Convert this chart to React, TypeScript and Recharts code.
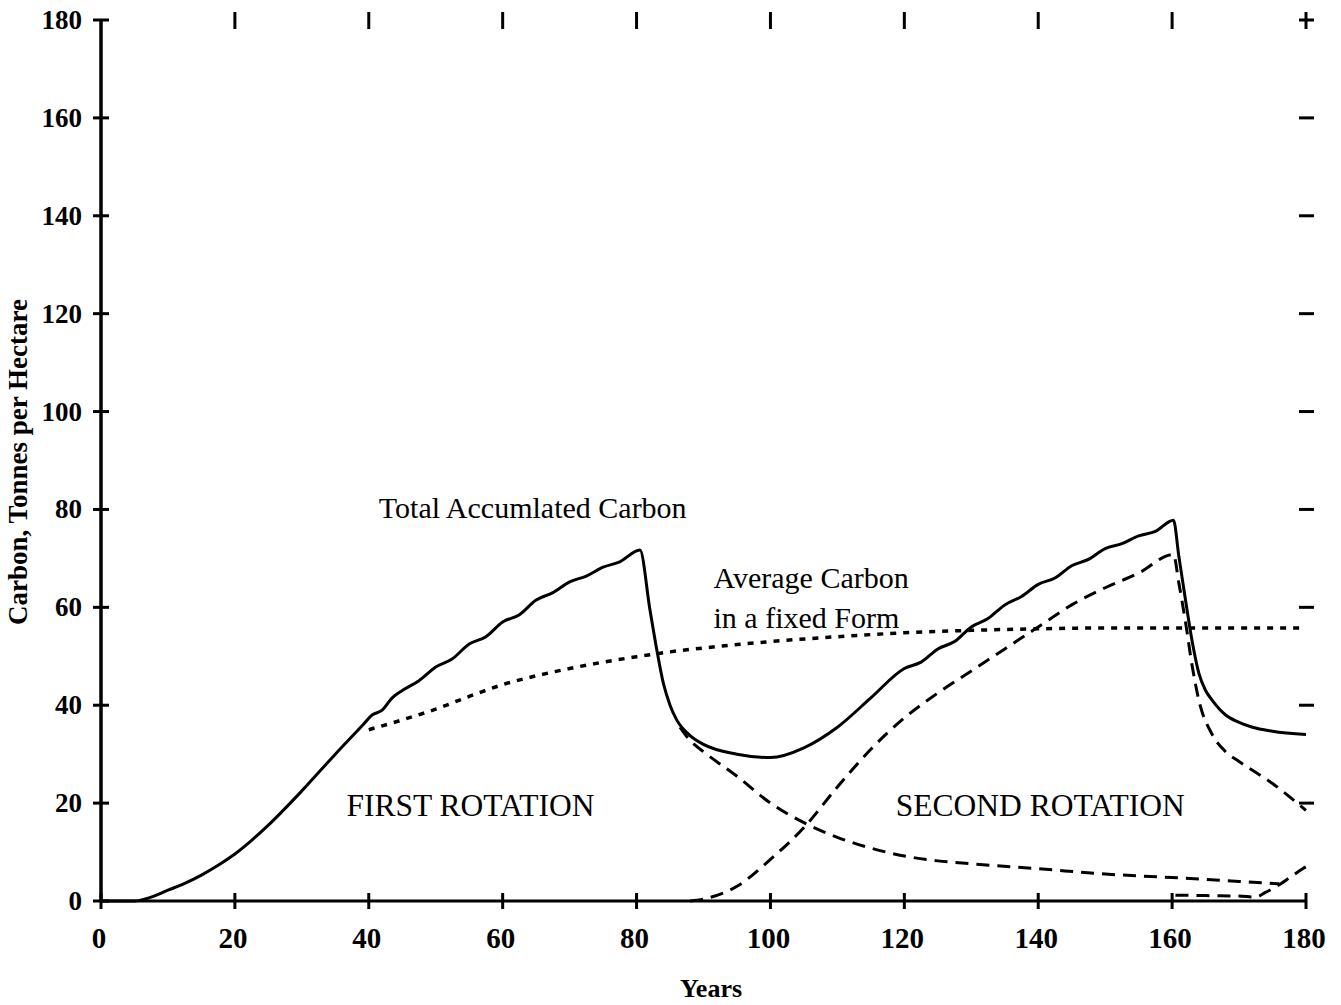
import { LineChart, Line, XAxis, YAxis, ReferenceDot } from 'recharts';

// Axis ticks
const xTicks = [0, 20, 40, 60, 80, 100, 120, 140, 160, 180];
const topTicks = [20, 40, 60, 80, 100, 120, 140, 160, 180];
const yTicks = [0, 20, 40, 60, 80, 100, 120, 140, 160, 180];
const rightTicks = [20, 40, 60, 80, 100, 120, 140, 160, 180];

// Total accumulated carbon (solid)
const totalYears = [0, 5, 7.5, 10, 12.5, 15, 17.5, 20, 25, 30, 35, 39, 40.5, 42, 43.5, 45, 47.5, 50, 52.5, 55, 57.5, 60, 62.5, 65, 67.5, 70, 72.5, 75, 77.5, 80.5, 82, 83, 84, 85, 86, 88, 90, 95, 100, 105, 110, 115, 120, 122.5, 125, 127.5, 130, 132.5, 135, 137.5, 140, 142.5, 145, 147.5, 150, 152.5, 155, 157.5, 160.2, 161, 162, 163, 164, 165, 166, 168, 170, 172, 175, 180];
const totalCarbon = [0, 0, 0.8, 2.2, 3.6, 5.3, 7.3, 9.6, 15.5, 22.5, 30, 35.8, 38, 39, 41.5, 43, 45, 47.8, 49.5, 52.5, 54, 57, 58.5, 61.5, 63, 65.2, 66.4, 68.2, 69.3, 71.7, 59.5, 51.5, 44.5, 40, 37, 33.8, 32, 30, 29.3, 31.3, 35.5, 41.5, 47.5, 48.8, 51.5, 53, 56, 57.7, 60.5, 62.2, 64.7, 66, 68.5, 69.8, 72, 73, 74.6, 75.5, 77.8, 70.5, 61.5, 53, 46.5, 43, 41, 38, 36.5, 35.5, 34.7, 34];

// Average carbon held in a fixed form (dotted)
const avgYears = [40, 45, 50, 55, 60, 65, 70, 75, 80, 85, 90, 100, 110, 120, 130, 140, 150, 160, 170, 180];
const avgCarbon = [35, 37, 39.2, 41.8, 44.2, 46, 47.5, 48.8, 49.9, 50.9, 51.7, 53, 54, 54.8, 55.3, 55.6, 55.8, 55.8, 55.8, 55.8];

// First rotation carbon decaying after harvest (dashed)
const decayYears = [86.5, 88, 90, 95, 100, 105, 110, 115, 120, 125, 130, 140, 150, 160, 170, 176];
const decayCarbon = [35.5, 32.8, 30.5, 25.5, 20, 16, 13, 10.8, 9.2, 8.2, 7.6, 6.6, 5.5, 4.8, 4, 3.5];

// Second rotation growth and decay (dashed)
const secondYears = [88, 90, 95, 100, 105, 110, 115, 120, 125, 130, 135, 140, 145, 150, 155, 160.2, 161, 162, 163, 164, 166, 168, 170, 175, 180];
const secondCarbon = [0, 0.4, 3, 8.5, 15, 23.3, 31, 37.4, 42.5, 47, 51.5, 56, 60.5, 64, 67, 70.8, 65, 57, 48, 41, 34, 30.5, 28.5, 24, 18.5];

// Third rotation start (dashed)
const thirdYears = [160.5, 165, 170, 172.5, 174, 175.5, 177.5, 179.5, 180];
const thirdCarbon = [1.2, 1.1, 1.0, 0.8, 1.8, 2.9, 4.7, 6.6, 7];

const zip = (xs: number[], ys: number[]) => xs.map((year, i) => ({ year, carbon: ys[i] }));

const SERIF = "'Liberation Serif', 'DejaVu Serif', serif";
const INK = '#000';

function LeftTick(props: any) {
  const { x, y, payload } = props;
  return (
    <g>
      <line x1={x - 8} x2={x + 8} y1={y} y2={y} stroke={INK} strokeWidth={3} />
      <text x={x - 19} y={y} textAnchor="end" dominantBaseline="central" fontFamily={SERIF} fontWeight="bold" fontSize={27} fill={INK}>
        {payload.value}
      </text>
    </g>
  );
}

function BottomTick(props: any) {
  const { x, y, payload } = props;
  return (
    <g>
      <line x1={x} x2={x} y1={y - 8} y2={y + 8} stroke={INK} strokeWidth={3} />
      <text x={x - 2} y={y + 37} textAnchor="middle" dominantBaseline="central" fontFamily={SERIF} fontWeight="bold" fontSize={29} fill={INK}>
        {payload.value}
      </text>
    </g>
  );
}

function TopTick(props: any) {
  const { x, y } = props;
  return <line x1={x} x2={x} y1={y - 8} y2={y + 9} stroke={INK} strokeWidth={3} />;
}

function RightTick(props: any) {
  const { x, y } = props;
  return <line x1={x - 7} x2={x + 8} y1={y} y2={y} stroke={INK} strokeWidth={3} />;
}

const noteStyle = { fontFamily: SERIF, fontSize: 30, fill: INK };
const capsStyle = { fontFamily: SERIF, fontSize: 31.5, fill: INK };

export default function App() {
  return (
    <div style={{ position: 'absolute', left: 0, top: 0, width: 1341, height: 1005, background: '#fff' }}>
      <LineChart width={1341} height={1005} margin={{ top: 8, right: 15, left: 0, bottom: 0 }}>
        <XAxis
          xAxisId="bottom"
          dataKey="year"
          type="number"
          domain={[0, 180]}
          ticks={xTicks}
          height={104}
          tickSize={0}
          tickMargin={0}
          tickLine={false}
          tick={<BottomTick />}
          axisLine={{ stroke: INK, strokeWidth: 3 }}
          allowDuplicatedCategory={false}
          label={{
            content: () => (
              <text x={711} y={988} textAnchor="middle" dominantBaseline="central" fontFamily={SERIF} fontWeight="bold" fontSize={26} fill={INK}>
                Years
              </text>
            ),
          }}
        />
        <XAxis
          xAxisId="top"
          orientation="top"
          dataKey="year"
          type="number"
          domain={[0, 180]}
          ticks={topTicks}
          height={12}
          tickSize={0}
          tickMargin={0}
          tickLine={false}
          axisLine={false}
          tick={<TopTick />}
          allowDuplicatedCategory={false}
        />
        <YAxis
          yAxisId="left"
          type="number"
          domain={[0, 180]}
          ticks={yTicks}
          width={101}
          tickSize={0}
          tickMargin={0}
          tickLine={false}
          tick={<LeftTick />}
          axisLine={{ stroke: INK, strokeWidth: 3.5 }}
          label={{
            content: () => (
              <text
                x={18}
                y={462}
                transform="rotate(-90, 18, 462)"
                textAnchor="middle"
                dominantBaseline="central"
                fontFamily={SERIF}
                fontWeight="bold"
                fontSize={27}
                fill={INK}
              >
                Carbon, Tonnes per Hectare
              </text>
            ),
          }}
        />
        <YAxis
          yAxisId="right"
          orientation="right"
          type="number"
          domain={[0, 180]}
          ticks={rightTicks}
          width={20}
          tickSize={0}
          tickMargin={0}
          tickLine={false}
          axisLine={false}
          tick={<RightTick />}
        />

        {/* invisible series so the top and right tick axes get drawn */}
        <Line
          xAxisId="top"
          yAxisId="right"
          data={zip(avgYears, avgCarbon)}
          dataKey="carbon"
          stroke="none"
          dot={false}
          activeDot={false}
          legendType="none"
          isAnimationActive={false}
        />

        <Line
          xAxisId="bottom"
          yAxisId="left"
          data={zip(totalYears, totalCarbon)}
          dataKey="carbon"
          type="monotone"
          stroke={INK}
          strokeWidth={3}
          dot={false}
          isAnimationActive={false}
        />
        <Line
          xAxisId="bottom"
          yAxisId="left"
          data={zip(avgYears, avgCarbon)}
          dataKey="carbon"
          type="monotone"
          stroke={INK}
          strokeWidth={3.5}
          strokeDasharray="6 7"
          dot={false}
          isAnimationActive={false}
        />
        <Line
          xAxisId="bottom"
          yAxisId="left"
          data={zip(decayYears, decayCarbon)}
          dataKey="carbon"
          type="monotone"
          stroke={INK}
          strokeWidth={3}
          strokeDasharray="13 8"
          dot={false}
          isAnimationActive={false}
        />
        <Line
          xAxisId="bottom"
          yAxisId="left"
          data={zip(secondYears, secondCarbon)}
          dataKey="carbon"
          type="monotone"
          stroke={INK}
          strokeWidth={3}
          strokeDasharray="13 8"
          dot={false}
          isAnimationActive={false}
        />
        <Line
          xAxisId="bottom"
          yAxisId="left"
          data={zip(thirdYears, thirdCarbon)}
          dataKey="carbon"
          type="monotone"
          stroke={INK}
          strokeWidth={3}
          strokeDasharray="13 8"
          dot={false}
          isAnimationActive={false}
        />

        <ReferenceDot xAxisId="bottom" yAxisId="left" x={41.5} y={80.5} r={0} label={{ value: 'Total Accumlated Carbon', position: 'right', offset: 0, ...noteStyle }} />
        <ReferenceDot xAxisId="bottom" yAxisId="left" x={91.5} y={66.2} r={0} label={{ value: 'Average Carbon', position: 'right', offset: 0, ...noteStyle }} />
        <ReferenceDot xAxisId="bottom" yAxisId="left" x={91.5} y={58} r={0} label={{ value: 'in a fixed Form', position: 'right', offset: 0, ...noteStyle }} />
        <ReferenceDot xAxisId="bottom" yAxisId="left" x={55.2} y={19.6} r={0} label={{ value: 'FIRST ROTATION', position: 'center', ...capsStyle }} />
        <ReferenceDot xAxisId="bottom" yAxisId="left" x={140.3} y={19.6} r={0} label={{ value: 'SECOND ROTATION', position: 'center', ...capsStyle }} />
      </LineChart>
    </div>
  );
}
